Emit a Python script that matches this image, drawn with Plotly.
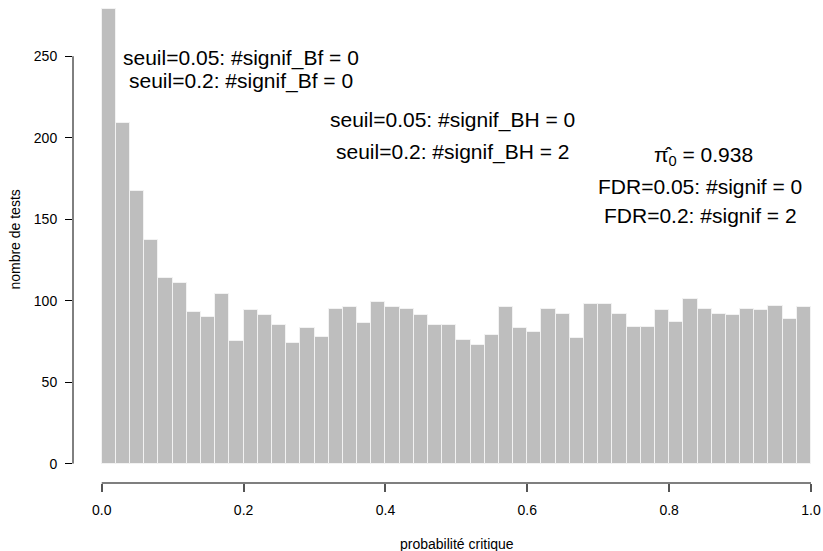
import plotly.graph_objects as go

# ---- data ----
bin_width = 0.02
bin_starts = [round(i * bin_width, 2) for i in range(50)]
counts = [279, 209, 167, 137, 114, 111, 93, 90, 104, 75,
          94, 91, 85, 74, 83, 78, 95, 96, 86, 99,
          96, 95, 91, 85, 85, 76, 73, 79, 96, 83,
          81, 95, 92, 77, 98, 98, 92, 84, 84, 94,
          87, 101, 95, 92, 91, 95, 94, 97, 89, 96]
x_ticks = [0.0, 0.2, 0.4, 0.6, 0.8, 1.0]
x_ticklabels = ["0.0", "0.2", "0.4", "0.6", "0.8", "1.0"]
y_ticks = [0, 50, 100, 150, 200, 250]

texts = [
    ("seuil=0.05: #signif_Bf = 0", 0.196, 249.0),
    ("seuil=0.2: #signif_Bf = 0", 0.197, 234.5),
    ("seuil=0.05: #signif_BH = 0", 0.495, 211.0),
    ("seuil=0.2: #signif_BH = 2", 0.494, 191.5),
    ("π\u0302<sub>0</sub> = 0.938", 0.848, 188.5),
    ("FDR=0.05: #signif = 0", 0.844, 170.0),
    ("FDR=0.2: #signif = 2", 0.844, 152.0),
]

FONT = "Liberation Sans, Arial, Helvetica, sans-serif"

centers = [s + bin_width / 2 for s in bin_starts]

fig = go.Figure()
fig.add_trace(go.Bar(
    x=centers, y=counts, width=[bin_width] * len(counts),
    marker=dict(color="#BEBEBE", line=dict(color="#F2F2F2", width=1)),
    hoverinfo="x+y", showlegend=False,
))

for txt, xv, yv in texts:
    fig.add_annotation(x=xv, y=yv, xref="x", yref="y", text=txt, showarrow=False,
                       font=dict(family=FONT, size=21, color="black"),
                       xanchor="center", yanchor="middle")

# axis titles
fig.add_annotation(x=0.512, y=-0.127, xref="paper", yref="paper",
                   text="probabilité critique", showarrow=False,
                   font=dict(family=FONT, size=14, color="black"),
                   xanchor="center", yanchor="middle")
fig.add_annotation(x=-0.0773, y=0.504, xref="paper", yref="paper",
                   text="nombre de tests", showarrow=False, textangle=-90,
                   font=dict(family=FONT, size=14, color="black"),
                   xanchor="center", yanchor="middle")

# R-style axis lines (span only the tick range)
fig.add_shape(type="line", xref="paper", yref="y", x0=0, x1=0,
              y0=y_ticks[0], y1=y_ticks[-1], line=dict(color="black", width=1))
fig.add_shape(type="line", xref="x", yref="paper", x0=x_ticks[0], x1=x_ticks[-1],
              y0=0, y1=0, line=dict(color="#555555", width=1.5))

fig.update_layout(
    width=823, height=551,
    margin=dict(l=73, r=0, t=0, b=67.5),
    paper_bgcolor="white", plot_bgcolor="white",
    bargap=0,
    font=dict(family=FONT, size=14, color="black"),
    xaxis=dict(range=[-0.0405, 1.0169], tickvals=x_ticks, ticktext=x_ticklabels,
               ticks="outside", ticklen=8, tickcolor="#555555", tickwidth=1.5,
               ticklabelstandoff=6,
               showgrid=False, zeroline=False, showline=False,
               tickfont=dict(family=FONT, size=14, color="black")),
    yaxis=dict(range=[-11.9, 284.5], tickvals=y_ticks,
               ticks="outside", ticklen=7, tickcolor="black", tickwidth=1,
               ticklabelstandoff=5,
               showgrid=False, zeroline=False, showline=False,
               tickfont=dict(family=FONT, size=14, color="black")),
)

fig.write_html("out.html")
